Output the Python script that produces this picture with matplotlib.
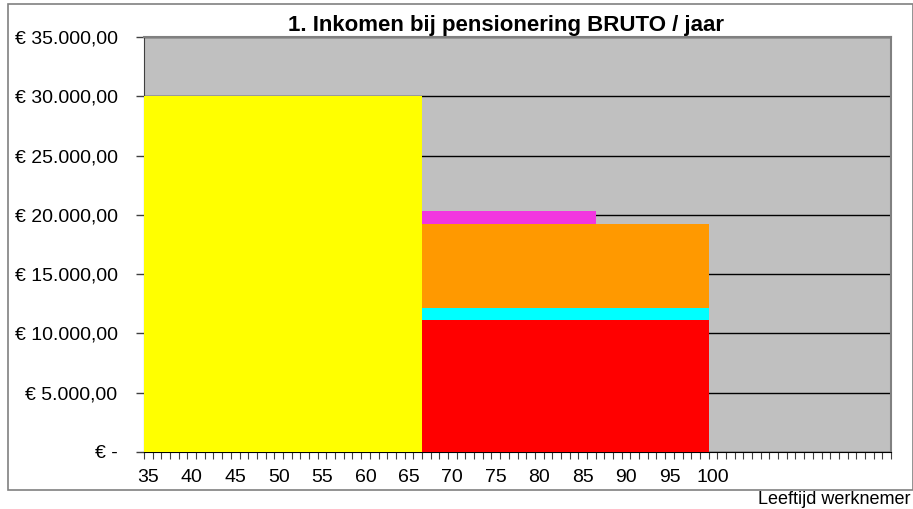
import matplotlib.pyplot as plt
import matplotlib.patches as patches
import numpy as np

plt.rcParams['font.family'] = ['Liberation Sans', 'DejaVu Sans']

# leeftijden (categorie-as)
ages = np.arange(35, 121)

# inkomen per component (euro / jaar)
salaris = np.where(ages <= 66, 30000, 0)
aow = np.where((ages >= 67) & (ages <= 99), 11160, 0)
pensioen_1 = np.where((ages >= 67) & (ages <= 99), 1010, 0)
pensioen_2 = np.where((ages >= 67) & (ages <= 99), 7060, 0)
pensioen_3 = np.where((ages >= 67) & (ages <= 86), 1060, 0)

series = [salaris, aow, pensioen_1, pensioen_2, pensioen_3]
colors = ['#FFFF00', '#FF0000', '#00FFFF', '#FF9900', '#F236E0']

y_ticks = [0, 5000, 10000, 15000, 20000, 25000, 30000, 35000]
y_labels = ['€ -', '€ 5.000,00', '€ 10.000,00', '€ 15.000,00', '€ 20.000,00',
            '€ 25.000,00', '€ 30.000,00', '€ 35.000,00']
x_labels = list(range(35, 101, 5))

fig = plt.figure(figsize=(9.13, 5.09), dpi=100)
ax = fig.add_axes([144/913, 57/509, 747/913, 415/509])
ax.set_facecolor('#C0C0C0')

bottom = np.zeros(len(ages))
for s, c in zip(series, colors):
    ax.bar(ages, s, width=1.0, bottom=bottom, color=c, linewidth=0,
           antialiased=False, zorder=3)
    bottom = bottom + s

ax.set_xlim(34.5, 120.5)
ax.set_ylim(0, 35000)
ax.set_yticks(y_ticks)
ax.set_yticklabels(y_labels, fontsize=14)
ax.yaxis.grid(True, color='black', linewidth=1, zorder=1)
ax.set_axisbelow(True)
ax.tick_params(axis='y', length=6, width=1, pad=13, color='#404040')

ax.set_xticks(x_labels)
ax.set_xticklabels([str(v) for v in x_labels], fontsize=14)
ax.set_xticks(np.arange(34.5, 121, 1), minor=True)
ax.tick_params(axis='x', which='major', length=0, pad=12)
ax.tick_params(axis='x', which='minor', length=5, width=0.8, color='#404040')

for side in ['top', 'right']:
    ax.spines[side].set_color('#808080')
    ax.spines[side].set_linewidth(1.5)
ax.spines['left'].set_color('#404040')
ax.spines['bottom'].set_color('black')

fig.text(506/913, 1 - 25/509, '1. Inkomen bij pensionering BRUTO / jaar',
         ha='center', va='center', fontsize=16, fontweight='bold')
fig.text(910/913, 1 - 500/509, 'Leeftijd werknemer', ha='right', va='center',
         fontsize=13)

frame = patches.Rectangle((8/913, 19/509), 905/913, 486/509, transform=fig.transFigure,
                          fill=False, edgecolor='#808080', linewidth=1.2)
fig.patches.append(frame)

fig.savefig('out.png', dpi=100)
